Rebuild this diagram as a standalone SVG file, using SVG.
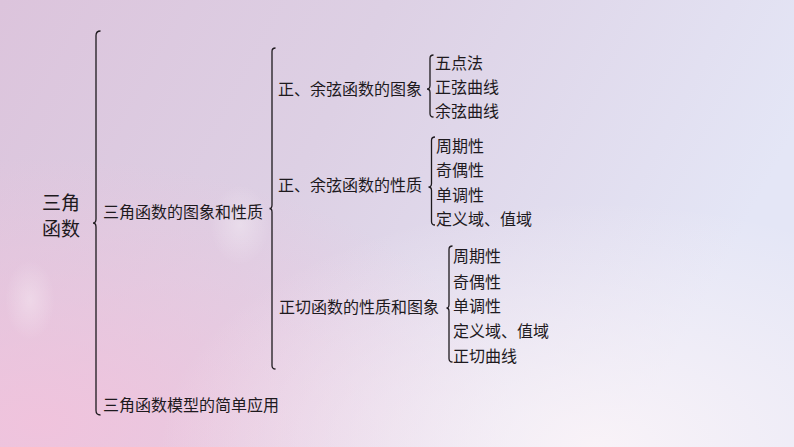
<svg xmlns="http://www.w3.org/2000/svg" width="794" height="447" viewBox="0 0 794 447">
<defs>
<linearGradient id="bg" x1="0" y1="0" x2="1" y2="0.3">
<stop offset="0" stop-color="#dcc4dc"/>
<stop offset="0.45" stop-color="#ddd0e4"/>
<stop offset="1" stop-color="#e4e6f6"/>
</linearGradient>
<radialGradient id="pink" cx="0.05" cy="0.95" r="0.6">
<stop offset="0" stop-color="#f2c2dc" stop-opacity="0.9"/>
<stop offset="1" stop-color="#f2c2dc" stop-opacity="0"/>
</radialGradient>
<radialGradient id="cloud" cx="0.75" cy="1" r="0.55">
<stop offset="0" stop-color="#fbf4f8" stop-opacity="0.9"/>
<stop offset="1" stop-color="#fbf4f8" stop-opacity="0"/>
</radialGradient>
<radialGradient id="glow" cx="0.5" cy="0.5" r="0.5">
<stop offset="0" stop-color="#ffffff" stop-opacity="0.3"/>
<stop offset="1" stop-color="#ffffff" stop-opacity="0"/>
</radialGradient>
</defs>
<style>
text{font-family:"Noto Sans CJK SC","Noto Sans CJK JP",sans-serif;font-size:16px;fill:#1e1a1e}
.big{font-size:19px}
.brace{fill:none;stroke:#1e1a1e;stroke-width:1.3}
</style>
<rect width="794" height="447" fill="url(#bg)"/>
<rect width="794" height="447" fill="url(#pink)"/>
<rect width="794" height="447" fill="url(#cloud)"/>
<ellipse cx="240" cy="225" rx="30" ry="40" fill="url(#glow)"/>
<ellipse cx="30" cy="300" rx="25" ry="40" fill="url(#glow)"/>

<g id="connectors">
<path class="brace" d="M100.5 31 Q96 31 96 35.5 L96 219 Q96 223 93 223 Q96 223 96 227 L96 410.5 Q96 415 100.5 415"/>
<path class="brace" d="M275.5 48 Q272 48 272 51.5 L272 205 Q272 208.5 269.5 208.5 Q272 208.5 272 212 L272 365.5 Q272 369 275.5 369"/>
<path class="brace" d="M433.5 55 Q430 55 430 58.5 L430 85.5 Q430 89 427 89 Q430 89 430 92.5 L430 113.5 Q430 117 433.5 117"/>
<path class="brace" d="M435 137 Q431.5 137 431.5 140.5 L431.5 183.5 Q431.5 187 428.5 187 Q431.5 187 431.5 190.5 L431.5 221.5 Q431.5 225 435 225"/>
<path class="brace" d="M452.5 246 Q449 246 449 249.5 L449 304.5 Q449 308 446.5 308 Q449 308 449 311.5 L449 358.5 Q449 362 452.5 362"/>
</g>

<g id="root"><text class="big" x="42" y="210">三角</text><text class="big" x="42" y="236">函数</text></g>
<g id="n1"><text x="103" y="218">三角函数的图象和性质</text></g>
<g id="n2"><text x="103" y="411">三角函数模型的简单应用</text></g>
<g id="n11"><text x="278" y="95">正、余弦函数的图象</text></g>
<g id="n12"><text x="278" y="191">正、余弦函数的性质</text></g>
<g id="n13"><text x="279" y="313">正切函数的性质和图象</text></g>
<g id="n111"><text x="435" y="69">五点法</text></g>
<g id="n112"><text x="435" y="93">正弦曲线</text></g>
<g id="n113"><text x="435" y="117">余弦曲线</text></g>
<g id="n121"><text x="436" y="152">周期性</text></g>
<g id="n122"><text x="436" y="176">奇偶性</text></g>
<g id="n123"><text x="436" y="201">单调性</text></g>
<g id="n124"><text x="436" y="225">定义域、值域</text></g>
<g id="n131"><text x="453" y="262">周期性</text></g>
<g id="n132"><text x="453" y="288">奇偶性</text></g>
<g id="n133"><text x="453" y="312">单调性</text></g>
<g id="n134"><text x="453" y="337">定义域、值域</text></g>
<g id="n135"><text x="453" y="362">正切曲线</text></g>
</svg>
